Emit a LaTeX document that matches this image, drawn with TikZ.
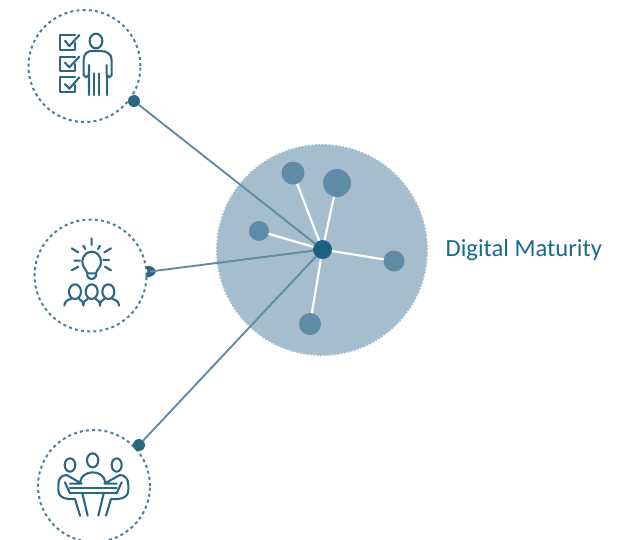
\documentclass[tikz,border=0pt]{standalone}
\usepackage{fontspec}
\setmainfont{Carlito}
\definecolor{ring}{HTML}{4F7D97}
\definecolor{icon}{HTML}{2B6683}
\definecolor{disc}{HTML}{A5BDCC}
\definecolor{sat}{HTML}{5F8BA6}
\definecolor{hubc}{HTML}{1F5F82}
\definecolor{link}{HTML}{5F8CA2}
\definecolor{label}{HTML}{1A6A8C}
\tikzset{
 ringc/.style={circle,draw=ring,line width=2pt,dash pattern=on 3pt off 3.2pt,minimum size=112pt,inner sep=0pt,outer sep=0pt},
 bigdisc/.style={circle,fill=disc,draw=disc,line width=1.8pt,dash pattern=on 2pt off 1.4pt,minimum size=210pt,inner sep=0pt,outer sep=0pt},
 satc/.style={circle,fill=sat,inner sep=0pt,outer sep=0pt},
 hubn/.style={circle,fill=hubc,minimum size=19pt,inner sep=0pt,outer sep=0pt},
 term/.style={circle,fill=icon,minimum size=12pt,inner sep=0pt,outer sep=0pt},
 spoke/.style={draw=white,line width=2.2pt},
 conn/.style={draw=link,line width=1.9pt},
 ico/.style={draw=icon,line width=2.1pt,line cap=round,line join=round},
}
\begin{document}
\begin{tikzpicture}[x=1pt,y=-1pt]
\useasboundingbox (0,0) rectangle (626,539);
\node[bigdisc] (big) at (322,250) {};
\node[ringc] (r1) at (84.5,66) {};
\node[ringc] (r2) at (90.5,275.5) {};
\node[ringc] (r3) at (94,486) {};
\node[hubn] (hub) at (322.5,249.5) {};
\node[satc,minimum size=23pt] (s1) at (293,173) {};
\node[satc,minimum size=28pt] (s2) at (337,183) {};
\node[satc,minimum size=20pt] (s3) at (259,231) {};
\node[satc,minimum size=21pt] (s4) at (394,261) {};
\node[satc,minimum size=22pt] (s5) at (310,324) {};
\draw[spoke] (hub) -- (s1);
\draw[spoke] (hub) -- (s2);
\draw[spoke] (hub) -- (s3);
\draw[spoke] (hub) -- (s4);
\draw[spoke] (hub) -- (s5);
\node[term] (t1) at (134,101) {};
\node[term] (t3) at (139,445) {};
\coordinate (t2) at (150,271.5);
\fill[icon] (145.5,266) .. controls (151,265) and (155,268) .. (156,271.5) .. controls (155,275) and (151,278) .. (145.5,277) .. controls (148,274) and (148,269) .. cycle;
\draw[conn] (t1) -- (hub);
\draw[conn] (t2) -- (hub);
\draw[conn] (t3) -- (hub);
\node[anchor=base west,text=label,font=\fontsize{24.6}{26}\selectfont,inner sep=0pt] (lab) at (445.5,256) {Digital Maturity};
% icon 1
\begin{scope}[shift={(20,0)},scale=1/3,ico]
\draw (165,105) -- (120,105) -- (120,150) -- (165,150) -- (165,128);
\draw (135,122) -- (148,138) -- (178,105);
\draw (165,170) -- (120,170) -- (120,212) -- (165,212) -- (165,192);
\draw (135,188) -- (148,202) -- (178,170);
\draw (165,232) -- (120,232) -- (120,275) -- (165,275) -- (165,255);
\draw (135,252) -- (148,266) -- (178,232);
\draw (228,123) ellipse [x radius=19,y radius=22];
\draw (207,285) -- (207,195) (191,225) -- (191,178) .. controls (191,160) and (205,153) .. (215,153) -- (242,153) .. controls (262,153) and (275,163) .. (275,180) -- (275,225) -- (268,232) -- (260,225) -- (260,195);
\draw (191,225) -- (198,232) -- (207,225);
\draw (222,285) -- (222,220) (237,220) -- (237,285) (260,225) -- (260,285);
\end{scope}
% icon 2
\begin{scope}[shift={(25,215)},scale=1/3,ico]
\draw (187,175) .. controls (183,160) and (172,158) .. (172,140) .. controls (172,122) and (186,110) .. (200,110) .. controls (214,110) and (228,122) .. (228,140) .. controls (228,158) and (217,160) .. (213,175) -- cycle;
\draw (187,175) -- (187,183) .. controls (190,195) and (210,195) .. (213,183) -- (213,175);
\draw (200,70) -- (200,90) (175,92) -- (181,102) (225,92) -- (219,102) (140,100) -- (160,112) (258,100) -- (238,112) (148,137) -- (165,137) (235,135) -- (252,135) (140,166) -- (160,155) (258,166) -- (240,155);
\draw (150,230) ellipse [x radius=18,y radius=22];
\draw (200,230) ellipse [x radius=18,y radius=22];
\draw (250,230) ellipse [x radius=18,y radius=22];
\draw (118,272) .. controls (118,260) and (128,254) .. (138,252) (162,252) .. controls (170,254) and (175,262) .. (175,272) .. controls (175,262) and (180,254) .. (188,252) (212,252) .. controls (220,254) and (225,262) .. (225,272) .. controls (225,262) and (230,254) .. (238,252) (262,252) .. controls (272,254) and (282,260) .. (282,272);
\end{scope}
% icon 3
\begin{scope}[shift={(25,425)},scale=1/3,ico]
\draw (135,120) ellipse [x radius=16,y radius=20];
\draw (203,106) ellipse [x radius=17,y radius=21];
\draw (275,120) ellipse [x radius=15,y radius=20];
\draw (165,172) .. controls (168,152) and (185,142) .. (203,142) .. controls (222,142) and (238,152) .. (241,172);
\draw (135,190) -- (275,190) (135,205) -- (275,205);
\draw (125,150) .. controls (108,150) and (100,162) .. (100,180) -- (100,195) .. controls (100,212) and (112,220) .. (130,222) -- (150,222) -- (165,272) (188,272) -- (172,205);
\draw (125,150) -- (170,176) -- (135,176) (120,172) -- (135,205);
\draw (285,150) .. controls (300,150) and (310,162) .. (310,180) -- (310,195) .. controls (310,212) and (298,220) .. (280,222) -- (258,222) -- (243,272) (220,272) -- (236,205);
\draw (285,150) -- (238,176) -- (275,176) (290,172) -- (275,205);
\end{scope}
\end{tikzpicture}
\end{document}
